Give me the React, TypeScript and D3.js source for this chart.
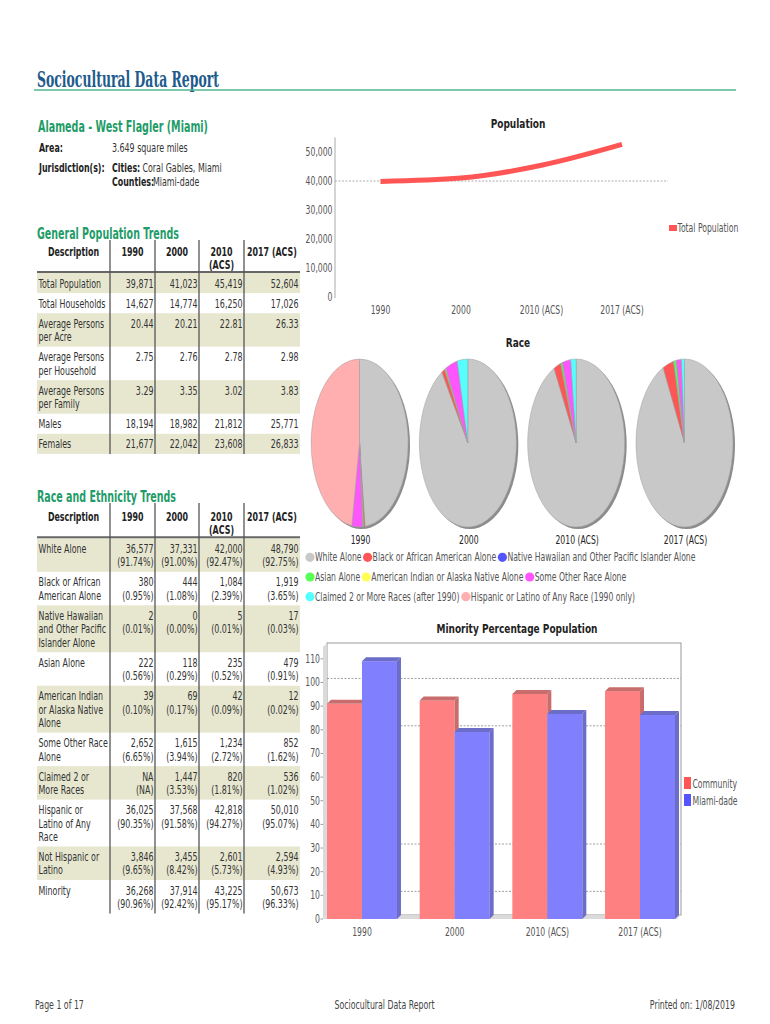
import React from "react";
import * as d3 from "d3";

// ---------- DATA ----------
const years = ["1990", "2000", "2010 (ACS)", "2017 (ACS)"];
const totalPopulation = [39871, 41023, 45419, 52604];
const populationTicks = [0, 10000, 20000, 30000, 40000, 50000];
const populationGridTicks = [40000];

const genHeaders = ["Description", "1990", "2000", "2010\n(ACS)", "2017 (ACS)"];
const genLabels = [
  "Total Population",
  "Total Households",
  "Average Persons\nper Acre",
  "Average Persons\nper Household",
  "Average Persons\nper Family",
  "Males",
  "Females",
];
const gen1990 = ["39,871", "14,627", "20.44", "2.75", "3.29", "18,194", "21,677"];
const gen2000 = ["41,023", "14,774", "20.21", "2.76", "3.35", "18,982", "22,042"];
const gen2010 = ["45,419", "16,250", "22.81", "2.78", "3.02", "21,812", "23,608"];
const gen2017 = ["52,604", "17,026", "26.33", "2.98", "3.83", "25,771", "26,833"];

const raceLabels = [
  "White Alone",
  "Black or African\nAmerican Alone",
  "Native Hawaiian\nand Other Pacific\nIslander Alone",
  "Asian Alone",
  "American Indian\nor Alaska Native\nAlone",
  "Some Other Race\nAlone",
  "Claimed 2 or\nMore Races",
  "Hispanic or\nLatino of Any\nRace",
  "Not Hispanic or\nLatino",
  "Minority",
];
const race1990 = ["36,577\n(91.74%)", "380\n(0.95%)", "2\n(0.01%)", "222\n(0.56%)", "39\n(0.10%)", "2,652\n(6.65%)", "NA\n(NA)", "36,025\n(90.35%)", "3,846\n(9.65%)", "36,268\n(90.96%)"];
const race2000 = ["37,331\n(91.00%)", "444\n(1.08%)", "0\n(0.00%)", "118\n(0.29%)", "69\n(0.17%)", "1,615\n(3.94%)", "1,447\n(3.53%)", "37,568\n(91.58%)", "3,455\n(8.42%)", "37,914\n(92.42%)"];
const race2010 = ["42,000\n(92.47%)", "1,084\n(2.39%)", "5\n(0.01%)", "235\n(0.52%)", "42\n(0.09%)", "1,234\n(2.72%)", "820\n(1.81%)", "42,818\n(94.27%)", "2,601\n(5.73%)", "43,225\n(95.17%)"];
const race2017 = ["48,790\n(92.75%)", "1,919\n(3.65%)", "17\n(0.03%)", "479\n(0.91%)", "12\n(0.02%)", "852\n(1.62%)", "536\n(1.02%)", "50,010\n(95.07%)", "2,594\n(4.93%)", "50,673\n(96.33%)"];

const pieSeries = [
  "White Alone",
  "Black or African American Alone",
  "Native Hawaiian and Other Pacific Islander Alone",
  "Asian Alone",
  "American Indian or Alaska Native Alone",
  "Some Other Race Alone",
  "Claimed 2 or More Races (after 1990)",
  "Hispanic or Latino of Any Race (1990 only)",
];
const pieColors = ["#c8c8c8", "#ff5555", "#5555ff", "#55ff55", "#ffff55", "#ff55ff", "#55ffff", "#ffafaf"];
const pie1990 = [36577, 380, 2, 222, 39, 2652, 0, 36025];
const pie2000 = [37331, 444, 0, 118, 69, 1615, 1447, 0];
const pie2010 = [42000, 1084, 5, 235, 42, 1234, 820, 0];
const pie2017 = [48790, 1919, 17, 479, 12, 852, 536, 0];
const pieLegendRows = [[0, 1, 2], [3, 4, 5], [6, 7]];

const minoritySeries = ["Community", "Miami-dade"];
const minorityCommunity = [90.96, 92.42, 95.17, 96.33];
const minorityMiamiDade = [109.0, 79.1, 86.7, 86.3];
const minorityTicks = [0, 10, 20, 30, 40, 50, 60, 70, 80, 90, 100, 110];
const minorityGridTicks = [10, 30, 80, 100];

// ---------- STYLE ----------
const SANS = "'DejaVu Sans', sans-serif";
const SERIF = "'DejaVu Serif', serif";
const SX = 0.66;
const TXT = "#333";
const AXT = "#555";
const GREEN = "#1f9c68";
const SHADE = "#e7e7d0";

let _ctx: CanvasRenderingContext2D | null = null;
function measure(text: string, size: number, weight = "normal") {
  if (!_ctx) _ctx = document.createElement("canvas").getContext("2d");
  if (!_ctx) return text.length * size * 0.6;
  _ctx.font = `${weight} ${size}px 'DejaVu Sans'`;
  return _ctx.measureText(text).width;
}

function T(props: any) {
  const { x, y, children, size = 12, weight = "normal", anchor = "start", fill = TXT, sx = SX, family = SANS } = props;
  return (
    <text
      transform={`translate(${x},${y}) scale(${sx},1)`}
      fontSize={size}
      fontWeight={weight}
      textAnchor={anchor}
      fill={fill}
      fontFamily={family}
    >
      {children}
    </text>
  );
}

// ---------- TABLE ----------
const colBounds = [37, 110, 155, 199, 244, 300];
const LH = 13.4;
const PAD = 6.7;

function Table({ ruleY, lineTop, headers, labels, cols }: any) {
  const rows: any[] = [];
  let y = ruleY + 1;
  labels.forEach((lab: string, i: number) => {
    const labLines = lab.split("\n");
    const valLines = cols.map((c: string[]) => c[i].split("\n"));
    const n = Math.max(labLines.length, ...valLines.map((v: string[]) => v.length));
    const h = PAD + LH * n;
    rows.push({ top: y, h, labLines, valLines, i });
    y += h;
  });
  const bottom = y;
  return (
    <g>
      {rows.map((r) =>
        r.i % 2 === 0 ? <rect key={"s" + r.i} x={37} y={r.top} width={263} height={r.h} fill={SHADE} /> : null
      )}
      {headers.map((h: string, j: number) => {
        const cx = (colBounds[j] + colBounds[j + 1]) / 2;
        return h.split("\n").map((ln, k) => (
          <T key={"h" + j + k} x={cx} y={ruleY - 16.5 + k * 13} anchor="middle" weight="bold" size={12} fill="#222">
            {ln}
          </T>
        ));
      })}
      <line x1={37} x2={300} y1={ruleY} y2={ruleY} stroke="#666" strokeWidth={2} />
      {[1, 2, 3, 4].map((j) => (
        <line key={"v" + j} x1={colBounds[j]} x2={colBounds[j]} y1={lineTop} y2={bottom} stroke="#555" strokeWidth={1.3} />
      ))}
      {rows.map((r) => (
        <g key={"r" + r.i}>
          {r.labLines.map((ln: string, k: number) => (
            <T key={"l" + k} x={38.5} y={r.top + 14.5 + k * LH}>
              {ln}
            </T>
          ))}
          {r.valLines.map((vl: string[], j: number) =>
            vl.map((ln: string, k: number) => (
              <T key={"c" + j + k} x={colBounds[j + 2] - 1.5} y={r.top + 14.5 + k * LH} anchor="end">
                {ln}
              </T>
            ))
          )}
        </g>
      ))}
    </g>
  );
}

// ---------- CHARTS ----------
function PopulationChart() {
  const x = d3.scalePoint<string>().domain(years).range([380.5, 622]);
  const y = d3.scaleLinear().domain([0, 55000]).range([297.3, 137.4]);
  const line = d3
    .line<number>()
    .x((_, i) => x(years[i]) as number)
    .y((d) => y(d))
    .curve(d3.curveMonotoneX);
  const fmt = d3.format(",");
  return (
    <g>
      <T x={518} y={128} anchor="middle" weight="bold" size={12.5} fill="#222" sx={0.72}>
        Population
      </T>
      {populationGridTicks.map((t) => (
        <line key={t} x1={335} x2={668} y1={y(t)} y2={y(t)} stroke="#999" strokeWidth={0.8} strokeDasharray="2,1.5" />
      ))}
      <line x1={335} x2={335} y1={137.4} y2={298} stroke="#aaa" strokeWidth={1} />
      {populationTicks.map((t) => (
        <T key={t} x={332.5} y={y(t) + 4} anchor="end" fill={AXT} size={11.5} sx={0.67}>
          {fmt(t)}
        </T>
      ))}
      {years.map((yr) => (
        <T key={yr} x={x(yr)} y={314} anchor="middle" fill={AXT} size={11.5} sx={0.67}>
          {yr}
        </T>
      ))}
      <path d={line(totalPopulation) || ""} fill="none" stroke="#ff5555" strokeWidth={5} />
      <rect x={669} y={225} width={8} height={6} fill="#ff5555" />
      <T x={677.5} y={232} fill={AXT} size={11.5} sx={0.67}>
        Total Population
      </T>
    </g>
  );
}

function RaceChart() {
  const px = d3.scalePoint<string>().domain(years).range([359.5, 684.5]);
  const cy = 443;
  const rx = 48.5;
  const ry = 84;
  const pieData = [pie1990, pie2000, pie2010, pie2017];
  const pie = d3.pie<number>().sort(null).value((d) => d);
  const arc = d3.arc<d3.PieArcDatum<number>>().innerRadius(0).outerRadius(1);
  const legendSize = 11.5;
  const lsx = 0.67;
  return (
    <g>
      <T x={518} y={347} anchor="middle" weight="bold" size={12.5} fill="#222" sx={0.72}>
        Race
      </T>
      {years.map((yr, i) => {
        const cx = px(yr) as number;
        const arcs = pie(pieData[i]);
        return (
          <g key={yr}>
            <ellipse cx={cx + 2} cy={cy + 2} rx={rx} ry={ry} fill="#8c8c8c" />
            <g transform={`translate(${cx},${cy}) scale(${rx},${ry})`}>
              {arcs.map((a, k) =>
                a.value > 0 ? (
                  <path
                    key={k}
                    d={arc(a) || ""}
                    fill={pieColors[k]}
                    stroke="#a0a0a0"
                    strokeWidth={0.5}
                    vectorEffect="non-scaling-stroke"
                  />
                ) : null
              )}
            </g>
            <T x={cx + 1} y={544} anchor="middle" fill="#222" size={11.5} sx={0.67}>
              {yr}
            </T>
          </g>
        );
      })}
      {pieLegendRows.map((row, ri) => {
        let xx = 305.5;
        const yy = 557.3 + ri * 19.7;
        return (
          <g key={ri}>
            {row.map((k) => {
              const w = measure(pieSeries[k], legendSize) * lsx;
              const el = (
                <g key={k}>
                  <circle cx={xx + 4.5} cy={yy} r={4.6} fill={pieColors[k]} />
                  <T x={xx + 9.5} y={yy + 4} fill={AXT} size={legendSize} sx={lsx}>
                    {pieSeries[k]}
                  </T>
                </g>
              );
              xx = xx + 9.5 + w + 1.5;
              return el;
            })}
          </g>
        );
      })}
    </g>
  );
}

function MinorityChart() {
  const x = d3.scaleBand<string>().domain(years).range([327, 675]).paddingInner(0.245).paddingOuter(0);
  const sub = d3.scaleBand<string>().domain(minoritySeries).range([0, x.bandwidth()]);
  const y = d3.scaleLinear().domain([0, 115]).range([919, 647]);
  const D = 4;
  const base = y(0);
  const seriesVals = [minorityCommunity, minorityMiamiDade];
  const fronts = ["#ff8080", "#8080ff"];
  const darks = ["#c96c6c", "#6c6cc9"];
  return (
    <g>
      <T x={517} y={633} anchor="middle" weight="bold" size={12.5} fill="#222" sx={0.72}>
        Minority Percentage Population
      </T>
      <rect x={327} y={643} width={354} height={272} fill="#fff" stroke="#999" strokeWidth={1} />
      <polygon points={`323,647 327,643 327,915 323,919`} fill="#dadada" />
      <polygon points={`323,919 327,915 681,915 677,919`} fill="#dadada" />
      {minorityGridTicks.map((t) => (
        <line key={t} x1={327} x2={681} y1={y(t) - D} y2={y(t) - D} stroke="#888" strokeWidth={0.8} strokeDasharray="2,1.5" />
      ))}
      {minorityTicks.map((t) => (
        <g key={t}>
          <line x1={320.5} x2={323} y1={y(t)} y2={y(t)} stroke="#999" />
          <T x={320} y={y(t) + 4} anchor="end" fill={AXT} size={11.5} sx={0.67}>
            {t}
          </T>
        </g>
      ))}
      {years.map((yr, i) => (
        <g key={yr}>
          {minoritySeries.map((s, si) => {
            const v = seriesVals[si][i];
            const x0 = (x(yr) as number) + (sub(s) as number);
            const w = sub.bandwidth();
            const y0 = y(v);
            return (
              <g key={s}>
                <rect x={x0} y={y0} width={w} height={base - y0} fill={fronts[si]} />
                <polygon
                  points={`${x0},${y0} ${x0 + D},${y0 - D} ${x0 + w + D},${y0 - D} ${x0 + w},${y0}`}
                  fill={darks[si]}
                />
                <polygon
                  points={`${x0 + w},${y0} ${x0 + w + D},${y0 - D} ${x0 + w + D},${base - D} ${x0 + w},${base}`}
                  fill={darks[si]}
                />
              </g>
            );
          })}
          <T x={(x(yr) as number) + x.bandwidth() / 2} y={936} anchor="middle" fill={AXT} size={11.5} sx={0.67}>
            {yr}
          </T>
        </g>
      ))}
      {minoritySeries.map((s, si) => (
        <g key={s}>
          <rect x={684} y={777 + si * 17} width={7} height={12} fill={si === 0 ? "#ff5555" : "#5555ff"} />
          <T x={692.5} y={788 + si * 17} fill={AXT} size={11.5} sx={0.67}>
            {s}
          </T>
        </g>
      ))}
    </g>
  );
}

export default function App() {
  return (
    <svg
      width={770}
      height={1024}
      viewBox="0 0 770 1024"
      style={{ position: "absolute", left: 0, top: 0, background: "#fff" }}
    >
      <rect x={0} y={0} width={770} height={1024} fill="#fff" />
      <text x={37} y={87} fontFamily={SERIF} fontWeight="bold" fontSize={23} fill="#1e5b8c" textLength={182} lengthAdjust="spacingAndGlyphs">
        Sociocultural Data Report
      </text>
      <line x1={34} x2={736} y1={90} y2={90} stroke="#52b48e" strokeWidth={1.6} />
      <text x={38} y={132} fontFamily={SANS} fontWeight="bold" fontSize={16} fill={GREEN} textLength={170} lengthAdjust="spacingAndGlyphs">
        Alameda - West Flagler (Miami)
      </text>
      <T x={39} y={152} weight="bold" fill="#222">Area:</T>
      <T x={112} y={152}>3.649 square miles</T>
      <T x={39} y={172} weight="bold" fill="#222">Jurisdiction(s):</T>
      <T x={112} y={172} weight="bold" fill="#222">Cities:</T>
      <T x={142.5} y={172}>Coral Gables, Miami</T>
      <T x={112} y={186} weight="bold" fill="#222">Counties:</T>
      <T x={153} y={186}>Miami-dade</T>

      <text x={37} y={239} fontFamily={SANS} fontWeight="bold" fontSize={16} fill={GREEN} textLength={142} lengthAdjust="spacingAndGlyphs">
        General Population Trends
      </text>
      <Table ruleY={272} lineTop={240} headers={genHeaders} labels={genLabels} cols={[gen1990, gen2000, gen2010, gen2017]} />

      <text x={37} y={502} fontFamily={SANS} fontWeight="bold" fontSize={16} fill={GREEN} textLength={139} lengthAdjust="spacingAndGlyphs">
        Race and Ethnicity Trends
      </text>
      <Table ruleY={537.3} lineTop={503} headers={genHeaders} labels={raceLabels} cols={[race1990, race2000, race2010, race2017]} />

      <PopulationChart />
      <RaceChart />
      <MinorityChart />

      <T x={35} y={1009} fill="#444" size={11.5} sx={0.68}>Page 1 of 17</T>
      <T x={384.5} y={1009} anchor="middle" fill="#444" size={11.5} sx={0.68}>Sociocultural Data Report</T>
      <T x={735} y={1009} anchor="end" fill="#444" size={11.5} sx={0.68}>Printed on: 1/08/2019</T>
    </svg>
  );
}
